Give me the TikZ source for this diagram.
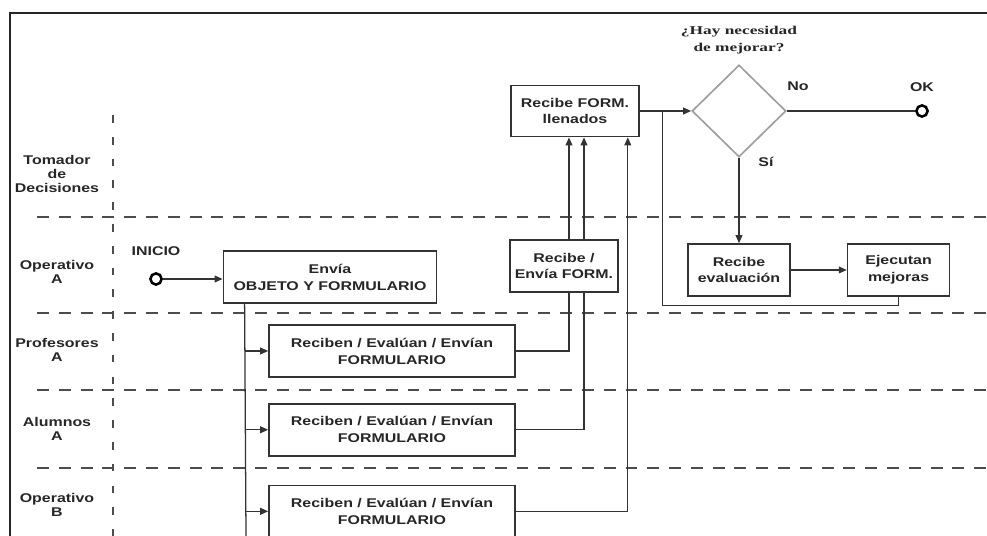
\documentclass[tikz,border=0pt]{standalone}
\usepackage{fontspec}
\setmainfont{Liberation Sans}
\newfontfamily\wfont{Liberation Sans}[FakeStretch=1.26]
\newfontfamily\qfont{Liberation Serif}[FakeStretch=1.45]
\usetikzlibrary{arrows.meta,positioning,shapes.geometric,calc}

\begin{document}
\begin{tikzpicture}[x=0.025cm, y=-0.025cm,
  box/.style={draw=black!80, line width=1.1pt, align=center, text=black!85,
    font=\wfont\fontsize{9}{12}\selectfont\bfseries, inner sep=0pt, minimum height=1.3cm},
  task/.style={box, minimum width=6.15cm},
  lane/.style={align=center, text=black!85, font=\wfont\fontsize{9}{10}\selectfont\bfseries},
  lbl/.style={text=black!85, font=\wfont\fontsize{9}{10}\selectfont\bfseries},
  qlbl/.style={align=center, text=black!85, font=\qfont\fontsize{8.5}{12}\selectfont\bfseries},
  sep/.style={black!70, line width=1pt, dash pattern=on 8.5pt off 7pt},
  vsep/.style={black!70, line width=1pt, dash pattern=on 5.5pt off 10pt},
  flow/.style={black!80, line width=0.9pt},
  tip/.style={flow, -{Triangle[length=2mm,width=1.7mm]}},
  term/.style={circle, draw=black, line width=1.8pt, minimum size=0.28cm, inner sep=0pt},
  decision/.style={diamond, draw=gray!75, line width=1.2pt, minimum width=2.35cm,
    minimum height=2.3cm, inner sep=0pt},
]
  \useasboundingbox (0,0) rectangle (987,536);

  % --- frame and swimlanes -------------------------------------------
  \draw[line width=1.3pt, black!85] (987,13) -- (10,13) -- (10,536);
  \foreach \y in {217,313,390,468}
    \draw[sep] (37,\y) -- (987,\y);
  \draw[vsep] (113,115) -- (113,536);

  \node[lane] (tom) at (57,174) {Tomador\\de\\Decisiones};
  \node[lane] (opa) at (57,272) {Operativo\\A};
  \node[lane] (pro) at (57,350) {Profesores\\A};
  \node[lane] (alu) at (57,429) {Alumnos\\A};
  \node[lane] (opb) at (57,505) {Operativo\\B};

  % --- start and sending ---------------------------------------------
  \node[term, label={[lbl, label distance=0.3cm]above:INICIO}] (ini) at (156,279) {};
  \node[box, minimum width=5.33cm] (envia) at (330,277) {Envía\\OBJETO Y FORMULARIO};

  \node[task] (rec1) at (392,351) {Reciben / Evalúan / Envían\\FORMULARIO};
  \node[task, below=0.63cm of rec1] (rec2) {Reciben / Evalúan / Envían\\FORMULARIO};
  \node[task, below=0.7cm of rec2] (rec3) {Reciben / Evalúan / Envían\\FORMULARIO};

  % --- collecting ----------------------------------------------------
  \node[box, minimum width=2.7cm] (rfe) at (564,266) {Recibe /\\Envía FORM.};
  \node[box, minimum width=3.2cm, minimum height=1.28cm] (llen) at (575,111) {Recibe FORM.\\llenados};

  % --- decision ------------------------------------------------------
  \node[decision, label={[qlbl, label distance=0.12cm]above:¿Hay necesidad\\de mejorar?}] (dec) at (739,111) {};
  \node[lbl] (no) at (798,86) {No};
  \node[lbl] (si) at (766,162) {Sí};
  \node[term, label={[lbl, label distance=0.18cm]above:OK}] (ok) at (922,111) {};

  \node[box, minimum width=2.55cm] (reval) at (739,270) {Recibe\\evaluación};
  \node[box, minimum width=2.55cm, right=1.4cm of reval] (ejec) {Ejecutan\\mejoras};

  % --- connectors ----------------------------------------------------
  \draw[tip] (ini) -- (ini -| envia.west);
  \coordinate (trunk) at ($(envia.south west)+(22,0)$);
  \coordinate (bot) at (246,536);
  \draw[flow] (trunk) -- (bot);
  \foreach \r in {rec1,rec2,rec3}
    \draw[tip] (trunk |- \r.west) -- (\r.west);

  \coordinate (u1) at ($(rfe.south)+(5,0)$);
  \coordinate (u2) at ($(rfe.south)+(20,0)$);
  \coordinate (v1) at ($(rfe.north)+(5,0)$);
  \coordinate (v2) at ($(rfe.north)+(20,0)$);
  \coordinate (v3) at ($(rfe.north east)+(9,0)$);
  \draw[flow] (rec1.east) -| (u1);
  \draw[flow] (rec2.east) -| (u2);
  \draw[tip] (v1) -- (v1 |- llen.south);
  \draw[tip] (v2) -- (v2 |- llen.south);
  \draw[tip] (rec3.east) -| (v3 |- llen.south);

  \draw[tip] (llen.east) -- (dec.west);
  \coordinate (jn) at ($(llen.east)+(23,0)$);
  \draw[flow] (ejec.south) -- ++(0,9) -| (jn);
  \draw[flow] (dec.east) -- (ok);
  \draw[tip] (dec.south) -- (reval.north);
  \draw[tip] (reval) -- (ejec);
\end{tikzpicture}
\end{document}
